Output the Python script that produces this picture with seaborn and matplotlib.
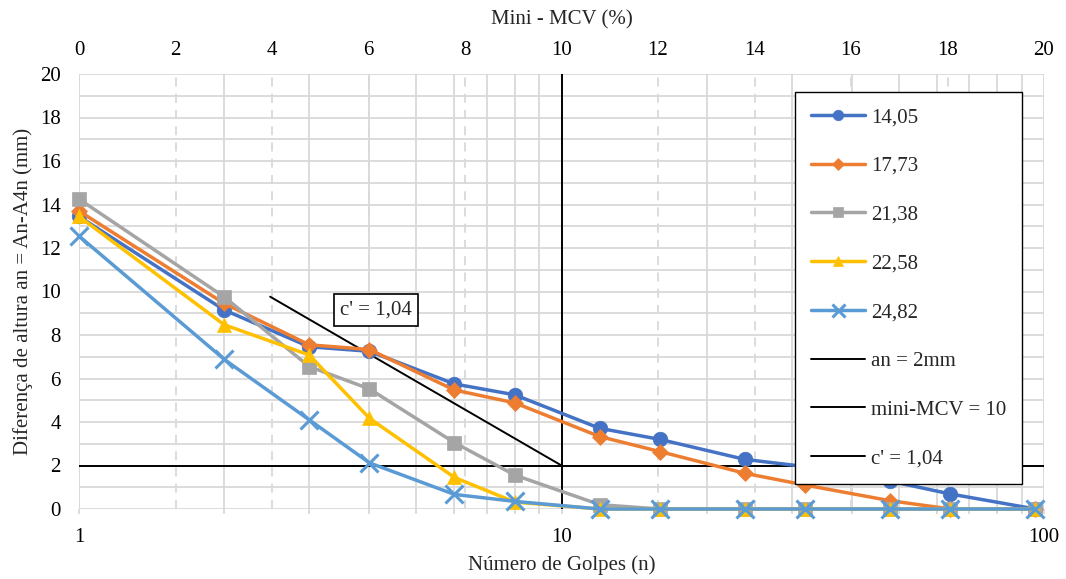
import numpy as np
import pandas as pd
import matplotlib
matplotlib.use("Agg")
import matplotlib.pyplot as plt
import seaborn as sns
from matplotlib.ticker import FixedLocator, NullFormatter, FixedFormatter

# ---- data ----
golpes = [1, 2, 3, 4, 6, 8, 12, 16, 24, 32, 48, 64, 96]
s_1405 = [13.45, 9.15, 7.46, 7.25, 5.75, 5.25, 3.71, 3.20, 2.28, 1.95, 1.28, 0.69, 0.0]
s_1773 = [13.70, 9.45, 7.55, 7.33, 5.47, 4.88, 3.33, 2.64, 1.64, 1.10, 0.38, 0.0, 0.0]
s_2138 = [14.25, 9.75, 6.55, 5.52, 3.05, 1.56, 0.20, 0.0, 0.0, 0.0, 0.0, 0.0, 0.0]
s_2258 = [13.45, 8.47, 7.08, 4.17, 1.45, 0.32, 0.0, 0.0, 0.0, 0.0, 0.0, 0.0, 0.0]
s_2482 = [12.55, 6.88, 4.10, 2.12, 0.67, 0.35, 0.0, 0.0, 0.0, 0.0, 0.0, 0.0, 0.0]
series_names = ["14,05", "17,73", "21,38", "22,58", "24,82"]
series_vals = [s_1405, s_1773, s_2138, s_2258, s_2482]
colors = ["#4472C4", "#ED7D31", "#A5A5A5", "#FFC000", "#5B9BD5"]
markers = ["o", "D", "s", "^", "x"]
msizes = [10.5, 8, 10, 10.5, 13]

an_level = 2
mcv_n = 10
cline_x = [2.49, 10]
cline_y = [9.76, 2]
c_label = "c' = 1,04"

yticks = list(range(0, 21, 2))
top_ticks = list(range(0, 21, 2))

sns.set_theme(style="white")
plt.rcParams["font.family"] = ["Liberation Serif", "DejaVu Serif"]

FS = 15
GRID = "#d9d9d9"

fig = plt.figure(figsize=(10.66, 5.79), dpi=100)
ax = fig.add_axes([79/1066, 1-509/579, (1044-79)/1066, (509-74)/579])
ax2 = ax.twiny()

df = pd.DataFrame({"n": golpes * 5,
                   "val": sum(series_vals, []),
                   "serie": sum([[s]*len(golpes) for s in series_names], [])})

for name, col, mk, ms in zip(series_names, colors, markers, msizes):
    sub = df[df["serie"] == name]
    sns.lineplot(data=sub, x="n", y="val", ax=ax, color=col, marker=mk,
                 markersize=ms, linewidth=2.5, markeredgecolor=col,
                 markeredgewidth=2.2 if mk == "x" else 0.5, label=name,
                 zorder=3, clip_on=False)

ax.set_xscale("log")
ax.set_xlim(1, 100)
ax.set_ylim(0, 20)

ax.axhline(an_level, color="black", lw=1.4, zorder=2.5, label="an = 2mm")
ax.axvline(mcv_n, color="black", lw=1.4, zorder=2.5, label="mini-MCV = 10")
ax.plot(cline_x, cline_y, color="black", lw=1.4, zorder=2.5, label=c_label)

ax.text(4.13, 9.15, c_label, fontsize=FS, ha="center", va="center",
        bbox=dict(boxstyle="square,pad=0.3", fc="white", ec="black", lw=1.2), zorder=4)

# grids
ax.set_yticks(yticks)
ax.yaxis.set_minor_locator(FixedLocator(list(range(1, 20, 2))))
ax.xaxis.set_major_locator(FixedLocator([1, 10, 100]))
ax.xaxis.set_major_formatter(FixedFormatter(["1", "10", "100"]))
ax.xaxis.set_minor_locator(FixedLocator([2, 3, 4, 5, 6, 7, 8, 9, 20, 30, 40, 50, 60, 70, 80, 90]))
ax.xaxis.set_minor_formatter(NullFormatter())
ax.grid(True, which="both", color=GRID, lw=1.3, zorder=0)
ax.set_axisbelow(True)
ax.tick_params(axis="y", which="both", length=0, labelsize=FS, colors="black", pad=13)
ax.tick_params(axis="x", which="both", length=3.6, width=1.3, color=GRID,
               direction="out", labelsize=FS, labelcolor="black", pad=10)
for sp in ax.spines.values():
    sp.set_visible(False)

ax2.set_xlim(0, 20)
ax2.set_xticks(top_ticks)
ax2.tick_params(length=0, labelsize=FS, colors="black", pad=10)
ax2.grid(True, axis="x", color=GRID, lw=1.3, ls=(0, (5, 4)))
ax2.set_zorder(ax.get_zorder() - 1)
ax.patch.set_visible(False)
for sp in ax2.spines.values():
    sp.set_visible(False)
ax2.set_xlabel("Mini - MCV (%)", fontsize=FS, labelpad=12)

ax.set_xlabel("Número de Golpes (n)", fontsize=FS, labelpad=6)
ax.set_ylabel("Diferença de altura an = An-A4n (mm)", fontsize=FS, labelpad=5)

leg = ax.legend(loc="upper left", bbox_to_anchor=(0.742, 0.9586), fontsize=FS,
                frameon=True, fancybox=False, edgecolor="black", framealpha=1,
                labelspacing=1.4, handlelength=2.6, borderpad=0.75, handletextpad=0.3,
                borderaxespad=0, markerscale=0.72)
leg.get_frame().set_linewidth(1.0)
leg.set_zorder(5)

fig.savefig("out.png", dpi=100)
